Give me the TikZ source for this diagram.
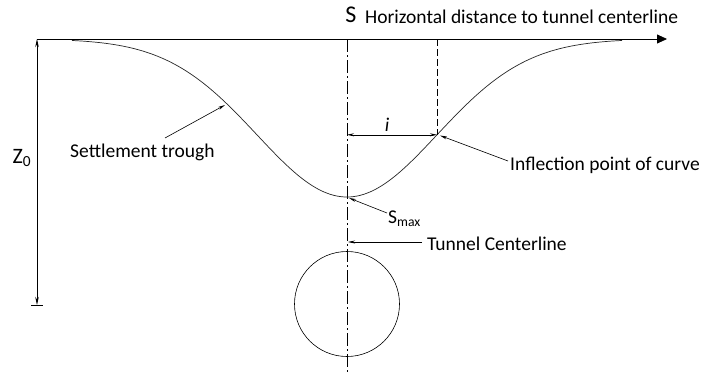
\documentclass[tikz,border=0pt]{standalone}
\usepackage{fontspec}
\setmainfont{Carlito}
\usetikzlibrary{arrows.meta}
\begin{document}
\begin{tikzpicture}[x=1pt,y=-1pt,
  lbl/.style={font=\fontsize{19.5}{22}\selectfont, inner sep=0pt},
  thin line/.style={line width=0.7pt, draw=black!85},
  ptr/.style={line width=0.6pt, -{Stealth[length=7pt,width=3pt]}},
  centre/.style={line width=0.6pt, dash pattern=on 13pt off 3pt on 2pt off 3pt}]
\useasboundingbox (0,0) rectangle (702,372);
% axes
\coordinate (O) at (37,39);
\coordinate (E) at (667,39);
\coordinate (B) at (37,305);
\draw[line width=0.8pt, -{Triangle[length=10pt,width=9pt]}] (O) -- (E);
\draw[line width=0.7pt, {Stealth[length=8pt,width=3.5pt]}-{Stealth[length=8pt,width=3.5pt]}] (O) -- (B);
\draw[line width=0.7pt] (31,305) -- (43,305);
\node[lbl, font=\fontsize{22}{24}\selectfont] (z0) at (22,158) {Z\textsubscript{0}};
\node[lbl, font=\fontsize{24}{26}\selectfont] (S) at (351,15) {S};
\node[lbl, anchor=west] (hd) at (365,17) {Horizontal distance to tunnel centerline};
% centerline
\coordinate (CT) at (347,39);
\coordinate (CB) at (347,372);
\draw[centre] (CT) -- (CB);
% settlement curve
\draw[thin line, domain=72:622, samples=150, smooth] plot (\x, {39+158*exp(-0.5*((\x-347)/90)^2)});
\coordinate (smax) at (347,197);
\coordinate (infl) at (437,134.8);
\coordinate (it) at (437,39);
\draw[line width=0.6pt, dash pattern=on 7pt off 3pt] (it) -- (infl);
% i dimension
\draw[line width=0.6pt, {Stealth[length=7pt,width=3pt]}-{Stealth[length=7pt,width=3pt]}] (347,134.8) -- (infl);
\node[lbl, font=\fontsize{19.5}{22}\selectfont\itshape] (i) at (387,125) {i};
% labels with pointers
\node[lbl, anchor=west] (st) at (70,152) {Settlement trough};
\coordinate (stp) at (225,105);
\draw[ptr] (165,138) -- (stp);
\node[lbl, anchor=west] (ip) at (510,165) {Inflection point of curve};
\draw[ptr] (508,161) -- (440,135.5);
\node[lbl, anchor=west] (sm) at (388,219) {S\textsubscript{max}};
\draw[ptr] (387,213) -- (349,198);
\node[lbl, anchor=west] (tc) at (427,244) {Tunnel Centerline};
\draw[ptr] (422,242) -- (348,242);
% tunnel
\node[draw, circle, line width=0.6pt, minimum size=105pt, inner sep=0pt] (tun) at (347,304) {};
\end{tikzpicture}
\end{document}
